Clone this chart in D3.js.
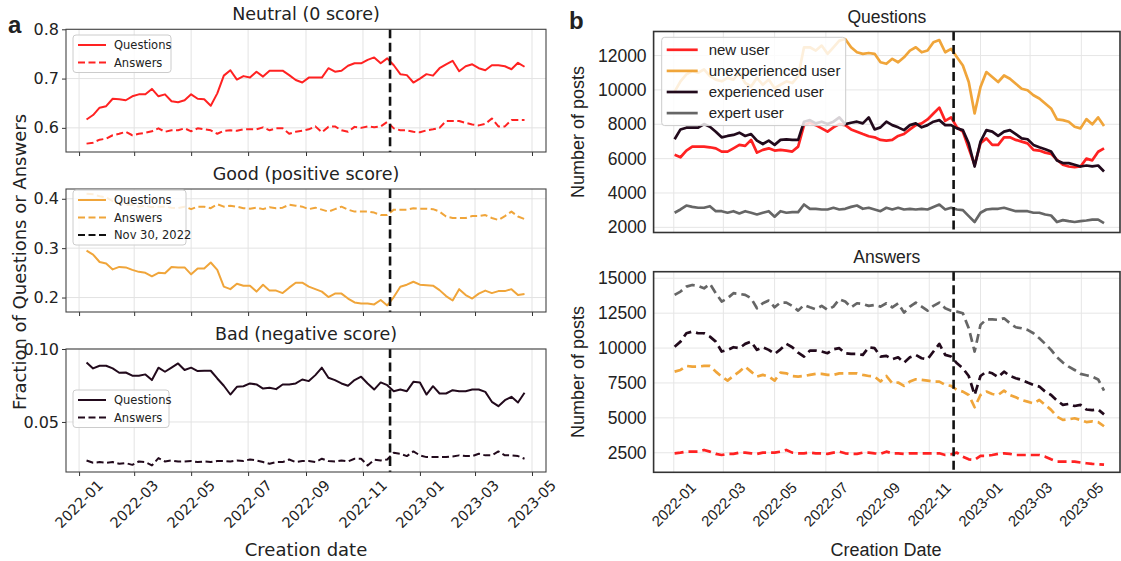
<!DOCTYPE html>
<html lang="en">
<head>
<meta charset="UTF-8">
<title>Post scores and posts by user type</title>
<script src="https://d3js.org/d3.v7.min.js"></script>
<style>
  body { margin: 0; background: #fff; }
  svg text { fill: #222; }
  .left text { font-family: "DejaVu Sans", sans-serif; }
  .right text { font-family: "Liberation Sans", Arial, sans-serif; }
</style>
</head>
<body>
<svg id="chart" width="1121" height="561"></svg>
<script>
// ---- panel a: weekly fractions, 2022-01-09 .. 2023-04-23 ----
var neutralQ = [0.617,0.626,0.641,0.644,0.659,0.658,0.656,0.664,0.668,0.668,0.679,0.664,0.668,0.654,0.652,0.656,0.668,0.659,0.658,0.645,0.670,0.706,0.717,0.698,0.705,0.702,0.714,0.704,0.716,0.716,0.716,0.707,0.697,0.692,0.702,0.702,0.702,0.721,0.714,0.716,0.726,0.731,0.731,0.738,0.743,0.731,0.741,0.727,0.709,0.707,0.692,0.700,0.709,0.706,0.721,0.729,0.736,0.715,0.725,0.729,0.721,0.717,0.727,0.727,0.725,0.719,0.732,0.724];
var neutralA = [0.568,0.570,0.576,0.578,0.585,0.588,0.592,0.585,0.588,0.590,0.593,0.599,0.592,0.595,0.595,0.599,0.593,0.599,0.597,0.595,0.588,0.594,0.595,0.594,0.597,0.597,0.597,0.601,0.595,0.599,0.599,0.588,0.592,0.594,0.597,0.603,0.591,0.602,0.603,0.595,0.592,0.602,0.600,0.603,0.601,0.603,0.612,0.599,0.595,0.595,0.592,0.591,0.595,0.597,0.600,0.614,0.614,0.614,0.610,0.607,0.605,0.608,0.619,0.603,0.603,0.616,0.616,0.616];
var goodQ = [0.295,0.287,0.272,0.269,0.257,0.262,0.261,0.256,0.252,0.250,0.243,0.250,0.249,0.262,0.261,0.261,0.247,0.259,0.259,0.271,0.256,0.222,0.217,0.228,0.224,0.224,0.212,0.226,0.214,0.214,0.209,0.220,0.230,0.230,0.222,0.217,0.212,0.201,0.208,0.208,0.198,0.190,0.188,0.188,0.186,0.195,0.184,0.201,0.222,0.226,0.232,0.226,0.225,0.224,0.215,0.203,0.194,0.217,0.205,0.198,0.208,0.214,0.209,0.213,0.213,0.217,0.205,0.207];
var goodA = [0.410,0.409,0.405,0.403,0.395,0.391,0.388,0.388,0.384,0.386,0.383,0.384,0.384,0.382,0.381,0.384,0.379,0.384,0.384,0.381,0.389,0.384,0.386,0.384,0.381,0.380,0.382,0.379,0.383,0.381,0.382,0.388,0.386,0.384,0.379,0.382,0.378,0.374,0.379,0.384,0.378,0.374,0.374,0.374,0.372,0.367,0.367,0.378,0.378,0.378,0.381,0.380,0.380,0.379,0.374,0.364,0.361,0.361,0.361,0.365,0.365,0.367,0.361,0.357,0.365,0.374,0.364,0.359];
var badQ = [0.0908,0.0867,0.0885,0.0885,0.0867,0.0837,0.0839,0.0817,0.0817,0.0826,0.0787,0.0872,0.0844,0.0872,0.0901,0.0856,0.0872,0.0849,0.0851,0.0851,0.0798,0.0748,0.0688,0.0741,0.0745,0.0764,0.0757,0.0729,0.0734,0.0725,0.0757,0.0757,0.0764,0.0791,0.0780,0.0821,0.0872,0.0803,0.0787,0.0764,0.0748,0.0787,0.0810,0.0764,0.0722,0.0771,0.0752,0.0711,0.0722,0.0711,0.0775,0.0771,0.0688,0.0745,0.0695,0.0695,0.0718,0.0711,0.0711,0.0722,0.0722,0.0706,0.0638,0.0608,0.0649,0.0672,0.0633,0.0700];
var badA = [0.0236,0.0220,0.0225,0.0220,0.0225,0.0213,0.0218,0.0206,0.0229,0.0225,0.0202,0.0252,0.0229,0.0236,0.0229,0.0229,0.0232,0.0225,0.0229,0.0225,0.0232,0.0232,0.0229,0.0236,0.0232,0.0243,0.0236,0.0225,0.0213,0.0225,0.0225,0.0243,0.0225,0.0232,0.0232,0.0225,0.0248,0.0232,0.0229,0.0236,0.0229,0.0248,0.0248,0.0202,0.0241,0.0236,0.0243,0.0289,0.0282,0.0266,0.0298,0.0271,0.0259,0.0259,0.0259,0.0259,0.0264,0.0271,0.0266,0.0266,0.0282,0.0271,0.0271,0.0298,0.0271,0.0271,0.0266,0.0248];

// ---- panel b: weekly post counts, 2022-01-02 .. 2023-05-28 ----
var newQ = [6220,6080,6470,6700,6700,6700,6660,6600,6410,6410,6600,6800,6740,7090,6350,6510,6600,6470,6510,6470,6410,6700,7950,8090,7950,7760,7570,7820,8010,7950,7700,7570,7430,7300,7240,7090,7050,7090,7320,7430,7700,7950,8050,8280,8630,8970,8200,8400,7820,7570,6600,5640,6890,7180,6800,6800,7240,7240,7090,6990,6890,6510,6470,6350,6280,5930,5640,5540,5500,5540,6000,5900,6400,6600];
var unexpQ = [9900,10500,10900,11100,11000,11200,10800,10600,10500,10700,10600,11000,10400,10200,10700,10300,10600,10100,10300,10500,10400,10800,12480,12480,12290,12580,12100,12480,12870,12960,12480,12190,12100,12150,12100,11610,11520,11810,11610,11900,12290,12480,12190,12290,12770,12900,12190,12390,11900,11420,10460,8630,10170,11040,10750,10460,10840,10650,10360,10070,9980,9690,9500,9210,8920,8280,8240,8150,7860,7760,8300,8000,8400,7900];
var expQ = [7125,7700,7800,7800,7800,8010,7860,7570,7240,7320,7380,7510,7320,7430,7050,6850,7050,6800,7090,7125,7090,7090,8150,8240,8050,8150,8010,8150,8400,8010,8090,8150,8050,8400,7700,7820,8150,7950,7820,7660,7950,8050,7820,7950,8150,8240,7950,7950,7760,7660,6890,5540,6990,7660,7570,7320,7570,7660,7430,7180,7130,6800,6660,6550,6410,5890,5740,5740,5640,5540,5600,5550,5600,5250];
var expertQ = [2850,3040,3270,3190,3140,3140,3230,2940,2940,2850,2940,2810,2940,2850,2750,2850,2940,2620,2940,2850,2890,2890,3330,3080,3080,3040,3040,3140,3040,3080,3190,3270,3080,3140,3040,2940,3140,3040,3140,3040,3080,3040,3080,3040,3190,3330,3040,3140,3040,3000,2650,2310,2850,3040,3080,3080,3140,3040,2940,2940,2940,2850,2850,2750,2690,2310,2420,2360,2310,2360,2400,2450,2450,2250];
var newA = [2460,2510,2580,2580,2580,2700,2580,2420,2340,2420,2420,2510,2510,2460,2420,2510,2510,2510,2580,2700,2510,2460,2460,2510,2460,2460,2420,2510,2580,2460,2420,2420,2510,2510,2460,2420,2580,2460,2460,2420,2460,2460,2460,2460,2460,2460,2340,2390,2510,2220,2030,1990,2270,2270,2340,2420,2460,2420,2340,2340,2340,2340,2340,2220,2030,1870,1870,1870,1870,1800,1750,1700,1680,1650];
var unexpA = [8310,8430,8720,8670,8670,8720,8720,8310,7960,7670,8000,8310,8670,8310,7960,8080,7960,7670,8240,8190,8000,7960,8000,8080,8150,8150,8080,8080,8190,8190,8190,8190,8080,8000,7960,7600,8000,7480,7530,7290,7600,7760,7720,7670,7600,7600,7360,7290,7000,6880,6640,5760,6640,6880,6710,6640,6950,6640,6470,6280,6160,6040,6280,5930,5570,5090,4850,4900,4970,4850,4700,4750,4700,4400];
var expA = [10100,10460,11060,11180,11060,11060,10820,10460,9750,9870,10060,9990,10300,10460,9870,10060,9870,9580,9910,10300,10060,9670,9390,9820,9820,9750,9630,9910,9990,9630,9580,9580,9510,10060,9990,9390,9440,9200,9340,8960,9340,9510,9270,9200,9750,10300,9510,9390,8910,8550,8000,6640,8000,8310,8190,7910,8310,8000,7840,7720,7530,7360,7240,6880,6640,6240,5930,6000,5850,5930,5600,5550,5600,5250];
var expertA = [13810,14045,14400,14520,14450,14280,14600,13930,13330,13570,13930,13880,13810,13570,12850,13210,13400,12920,13260,13260,13020,12680,13090,12920,12780,13020,12730,12970,13500,13330,12920,13210,13160,13020,13090,12970,13210,12920,13210,12540,12970,13260,12970,12680,13020,13260,12850,12680,12610,12490,11420,9750,11660,12060,12060,12020,12130,11780,11490,11420,11300,11060,10700,10300,9870,9340,8960,8670,8430,8150,8050,7950,7750,6950];

var userTypes = ["new user", "unexperienced user", "experienced user", "expert user"];
var leftTicksQ = [0.6, 0.7, 0.8], leftTicksG = [0.2, 0.3, 0.4], leftTicksB = [0.05, 0.10];
var rightTicksQ = [2000, 4000, 6000, 8000, 10000, 12000];
var rightTicksA = [2500, 5000, 7500, 10000, 12500, 15000];
var eventDate = new Date(Date.UTC(2022, 10, 30));

var RED = "#ff2222", ORANGE = "#f0a53a", DARK = "#220a1c", GRAY = "#666666";

var leftDates = d3.utcWeek.range(new Date(Date.UTC(2022, 0, 9)), new Date(Date.UTC(2023, 3, 24)));
var rightDates = d3.utcWeek.range(new Date(Date.UTC(2022, 0, 2)), new Date(Date.UTC(2023, 4, 29)));
var monthTicks = d3.utcMonth.every(2).range(new Date(Date.UTC(2022, 0, 1)), new Date(Date.UTC(2023, 4, 2)));

var svg = d3.select("#chart");
var fmtDate = d3.utcFormat("%Y-%m");

function drawPanel(g, x, y, top, bottom, yTicks, yFmt, opts) {
    var x0 = x.range()[0], x1 = x.range()[1];
    // grid
    g.append("g").selectAll("line").data(monthTicks).join("line")
        .attr("x1", d => x(d)).attr("x2", d => x(d)).attr("y1", top).attr("y2", bottom)
        .attr("stroke", opts.grid).attr("stroke-width", 1);
    g.append("g").selectAll("line").data(yTicks).join("line")
        .attr("x1", x0).attr("x2", x1).attr("y1", d => y(d)).attr("y2", d => y(d))
        .attr("stroke", opts.grid).attr("stroke-width", 1);

    // y axis labels
    var ya = g.append("g").attr("transform", "translate(" + x0 + ",0)")
        .call(d3.axisLeft(y).tickValues(yTicks).tickFormat(d3.format(yFmt))
            .tickSize(opts.tick).tickPadding(opts.tick ? 3 : 7));
    ya.select(".domain").remove();
    ya.selectAll("line").attr("stroke", "#333");
    ya.selectAll("text").style("font-size", opts.yFont + "px").attr("fill", "#222");

    // x ticks
    var xa = g.append("g").attr("transform", "translate(0," + bottom + ")")
        .call(d3.axisBottom(x).tickValues(monthTicks).tickSize(opts.tick).tickFormat(""));
    xa.select(".domain").remove();
    xa.selectAll("line").attr("stroke", "#333");
    if (opts.xLabels) {
        g.append("g").selectAll("text").data(monthTicks).join("text")
            .attr("transform", d => "translate(" + x(d) + "," + (bottom + 32) + ") rotate(-45)")
            .attr("text-anchor", "middle").attr("dy", "0.35em")
            .style("font-size", opts.xFont + "px")
            .text(d => fmtDate(d));
    }

    var clip = "clip" + Math.round(top);
    g.append("clipPath").attr("id", clip).append("rect")
        .attr("x", x0).attr("y", top).attr("width", x1 - x0).attr("height", bottom - top);
    var plot = g.append("g").attr("clip-path", "url(#" + clip + ")");
    opts.series.forEach(function(s) {
        var line = d3.line().x((d, i) => x(s.dates[i])).y(d => y(d));
        plot.append("path").datum(s.values)
            .attr("d", line).attr("fill", "none")
            .attr("stroke", s.color).attr("stroke-width", opts.lw)
            .attr("stroke-linejoin", "round")
            .attr("stroke-dasharray", s.dash ? opts.dash : null);
    });
    plot.append("line")
        .attr("x1", x(eventDate)).attr("x2", x(eventDate)).attr("y1", top).attr("y2", bottom)
        .attr("stroke", "#111").attr("stroke-width", 2.6).attr("stroke-dasharray", "9,4.5");

    g.append("rect").attr("x", x0).attr("y", top).attr("width", x1 - x0).attr("height", bottom - top)
        .attr("fill", "none").attr("stroke", opts.frame).attr("stroke-width", opts.frameW);

    g.append("text").attr("x", (x0 + x1) / 2).attr("y", top - 9)
        .attr("text-anchor", "middle").style("font-size", opts.titleFont + "px")
        .text(opts.title);

    if (opts.legend) {
        var L = opts.legend;
        var lg = g.append("g");
        var h = L.pad * 2 + L.gap * (L.items.length - 1);
        lg.append("rect").attr("x", L.x).attr("y", L.y).attr("width", L.w).attr("height", h)
            .attr("rx", 3).attr("fill", "#fff").attr("fill-opacity", 0.82)
            .attr("stroke", "#cccccc").attr("stroke-width", 1);
        L.items.forEach(function(it, i) {
            var cy = L.y + L.pad + i * L.gap;
            lg.append("line").attr("x1", L.x + 5).attr("x2", L.x + 5 + L.handle)
                .attr("y1", cy).attr("y2", cy)
                .attr("stroke", it.color).attr("stroke-width", opts.lw)
                .attr("stroke-dasharray", it.dash ? opts.dash : null);
            lg.append("text").attr("x", L.x + 5 + L.handle + L.textGap).attr("y", cy)
                .attr("dy", "0.35em").style("font-size", L.font + "px").text(it.label);
        });
    }
}

// ---------- panel a ----------
var left = svg.append("g").attr("class", "left");
var xL = d3.scaleUtc().domain([new Date(Date.UTC(2021, 11, 18)), new Date(Date.UTC(2023, 4, 16))]).range([66, 546]);

var leftPanels = [
    {title: "Neutral (0 score)", top: 29.3, bottom: 152, domain: [0.551, 0.8], ticks: leftTicksQ, fmt: ".1f",
     q: neutralQ, a: neutralA, color: RED, ly: 35, lw: 98, vline: false},
    {title: "Good (positive score)", top: 189, bottom: 312, domain: [0.1707, 0.4198], ticks: leftTicksG, fmt: ".1f",
     q: goodQ, a: goodA, color: ORANGE, ly: 190, lw: 113, vline: true},
    {title: "Bad (negative score)", top: 349, bottom: 472, domain: [0.0157, 0.10], ticks: leftTicksB, fmt: ".2f",
     q: badQ, a: badA, color: DARK, ly: 390, lw: 96, vline: false}
];

leftPanels.forEach(function(p, k) {
    var y = d3.scaleLinear().domain(p.domain).range([p.bottom, p.top]);
    var items = [{label: "Questions", color: p.color, dash: false}, {label: "Answers", color: p.color, dash: true}];
    if (p.vline) items.push({label: "Nov 30, 2022", color: "#111", dash: true});
    drawPanel(left.append("g"), xL, y, p.top, p.bottom, p.ticks, p.fmt, {
        grid: "#e3e3e3", tick: 4, yFont: 16, xFont: 14.5, xLabels: k === 2,
        frame: "#444", frameW: 1.1, lw: 2, dash: "7,3.5", titleFont: 17.5, title: p.title,
        series: [{values: p.q, dates: leftDates, color: p.color, dash: false},
                 {values: p.a, dates: leftDates, color: p.color, dash: true}],
        legend: {x: 73, y: p.ly, w: p.lw, pad: 10, gap: 17.5, handle: 28, textGap: 8, font: 11.5, items: items}
    });
});

left.append("text").attr("transform", "translate(20,262) rotate(-90)")
    .attr("text-anchor", "middle").attr("dy", "0.35em").style("font-size", "18px")
    .text("Fraction of Questions or Answers");
left.append("text").attr("x", 306).attr("y", 556).attr("text-anchor", "middle")
    .style("font-size", "18px").text("Creation date");
svg.append("text").attr("x", 8).attr("y", 33).style("font-family", "Liberation Sans, Arial, sans-serif")
    .style("font-weight", "bold").style("font-size", "24px").attr("fill", "#000").text("a");

// ---------- panel b ----------
var right = svg.append("g").attr("class", "right");
var xR = d3.scaleUtc().domain([new Date(Date.UTC(2021, 11, 8)), new Date(Date.UTC(2023, 5, 16))]).range([653.6, 1120]);
var colors = [RED, ORANGE, DARK, GRAY];

var rightPanels = [
    {title: "Questions", top: 31.5, bottom: 232.5, domain: [1700, 13400], ticks: rightTicksQ,
     vals: [newQ, unexpQ, expQ, expertQ], dash: false, legend: true},
    {title: "Answers", top: 271.7, bottom: 472.3, domain: [1100, 15470], ticks: rightTicksA,
     vals: [newA, unexpA, expA, expertA], dash: true, legend: false}
];

rightPanels.forEach(function(p, k) {
    var y = d3.scaleLinear().domain(p.domain).range([p.bottom, p.top]);
    drawPanel(right.append("g"), xR, y, p.top, p.bottom, p.ticks, "d", {
        grid: "#e6e6e6", tick: 0, yFont: 17.5, xFont: 15, xLabels: k === 1,
        frame: "#333", frameW: 1.6, lw: 2.7, dash: "9,5", titleFont: 17.5, title: p.title,
        series: p.vals.map((v, i) => ({values: v, dates: rightDates, color: colors[i], dash: p.dash})),
        legend: p.legend ? {x: 661.7, y: 37.3, w: 184, pad: 12.5, gap: 21.1, handle: 31, textGap: 11, font: 15,
            items: userTypes.map((u, i) => ({label: u, color: colors[i], dash: false}))} : null
    });
    right.append("text").attr("transform", "translate(578," + ((p.top + p.bottom) / 2) + ") rotate(-90)")
        .attr("text-anchor", "middle").attr("dy", "0.35em").style("font-size", "18px")
        .text("Number of posts");
});

right.append("text").attr("x", 886).attr("y", 556).attr("text-anchor", "middle")
    .style("font-size", "18px").text("Creation Date");
svg.append("text").attr("x", 569).attr("y", 29).style("font-family", "Liberation Sans, Arial, sans-serif")
    .style("font-weight", "bold").style("font-size", "24px").attr("fill", "#000").text("b");
</script>
</body>
</html>
